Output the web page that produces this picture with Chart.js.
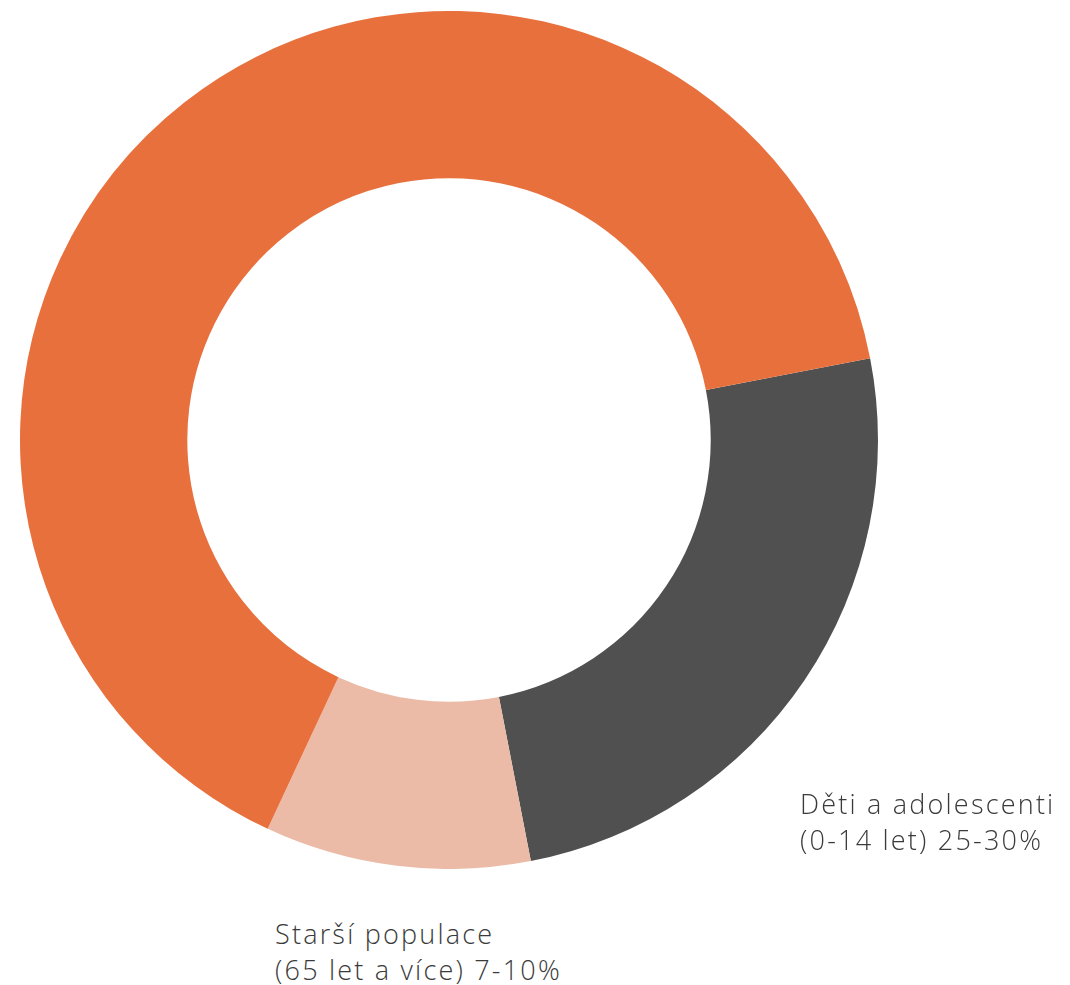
<!DOCTYPE html>
<html><head><meta charset="utf-8">
<script src="https://cdn.jsdelivr.net/npm/chart.js@4/dist/chart.umd.min.js"></script>
<style>
html,body{margin:0;padding:0;background:#fff;width:1070px;height:985px;overflow:hidden;}
#wrap{position:absolute;left:20px;top:11px;width:858px;height:858px;}
.lbl{position:absolute;font-family:"Open Sans",sans-serif;font-weight:300;font-size:27px;line-height:36px;color:#3a3a3a;white-space:nowrap;letter-spacing:2.2px;}
</style></head><body>
<div id="wrap"><canvas id="c"></canvas></div>
<div class="lbl" id="l1" style="left:800px;top:786px;"></div>
<div class="lbl" id="l2" style="left:275px;top:916px;"></div>
<script>
const categories = ["Děti a adolescenti (0-14 let)", "Starší populace (65 let a více)", "Populace v produktivním věku (15-64 let)"];
const values = [25, 10, 65];
const labelLines = [["Děti a adolescenti", "(0-14 let) 25-30%"], ["Starší populace", "(65 let a více) 7-10%"]];
const colors = ["#505050", "#EBBBA7", "#E8703D"];

document.getElementById('l1').innerHTML = labelLines[0].join('<br>');
document.getElementById('l2').innerHTML = labelLines[1].join('<br>');

new Chart(document.getElementById('c'), {
  type: 'doughnut',
  data: { labels: categories, datasets: [{ data: values, backgroundColor: colors, borderWidth: 0 }] },
  options: {
    responsive: true, maintainAspectRatio: false, animation: false,
    cutout: '61%', rotation: 79,
    layout: { padding: 0 },
    plugins: { legend: { display: false }, tooltip: { enabled: false } }
  }
});
</script></body></html>
